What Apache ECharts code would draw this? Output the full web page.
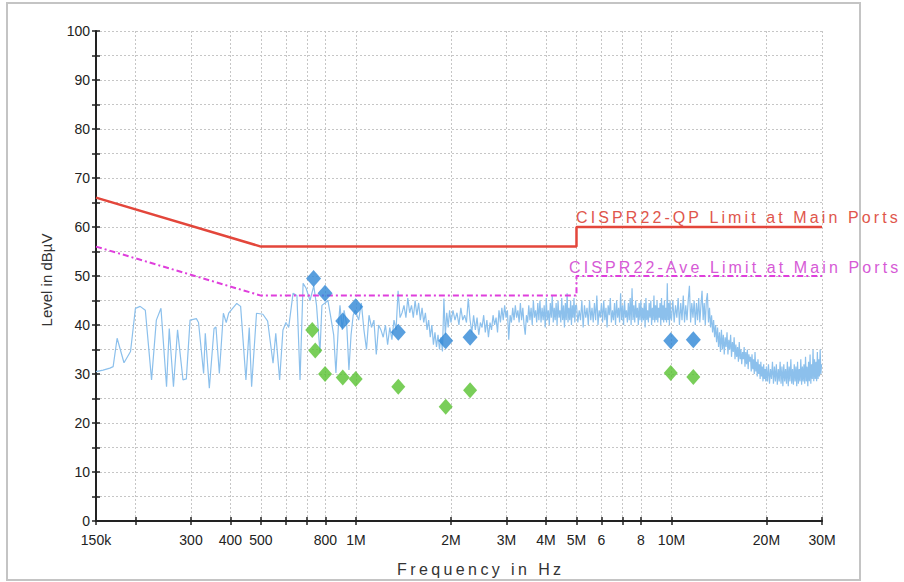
<!DOCTYPE html>
<html><head><meta charset="utf-8">
<script src="https://cdn.jsdelivr.net/npm/echarts@6/dist/echarts.min.js"></script>
<style>html,body{margin:0;padding:0;background:#fff}#c{width:904px;height:582px}</style>
</head><body><div id="c"></div>
<script>
// ---- axis ticks ----
const tickFreqsHz = [150e3,200e3,300e3,400e3,500e3,600e3,700e3,800e3,1e6,2e6,3e6,4e6,5e6,6e6,7e6,8e6,10e6,20e6,30e6];
const tickLabels  = ['150k','','300','400','500','','','800','1M','2M','3M','4M','5M','6','','8','10M','20M','30M'];

// ---- limit lines (MHz, dBµV) ----
const qpLimitFreqMHz  = [0.15, 0.5, 5, 5, 30];
const qpLimitLevel    = [66, 56, 56, 60, 60];
const aveLimitFreqMHz = [0.15, 0.5, 5, 5, 30];
const aveLimitLevel   = [56, 46, 46, 50, 50];

// ---- final measurement points ----
const qpFreqMHz  = [0.734, 0.798, 0.908, 0.998, 1.362, 1.925, 2.30, 9.95, 11.73];
const qpLevel    = [49.5, 46.5, 40.8, 43.7, 38.5, 36.8, 37.5, 36.8, 37.0];
const aveFreqMHz = [0.727, 0.743, 0.798, 0.908, 0.998, 1.362, 1.925, 2.30, 9.95, 11.73];
const aveLevel   = [39.0, 34.8, 30.0, 29.3, 29.0, 27.4, 23.3, 26.7, 30.2, 29.4];

// ---- pre-scan trace, 150 kHz – 1 MHz: [MHz, dBµV] ----
const traceLow = [[0.150,30.5],[0.158,30.8],[0.166,31.2],[0.170,31.5],[0.175,37.3],[0.184,32.3],[0.193,34.6],[0.200,43.4],[0.207,43.8],[0.215,43.0],[0.225,28.8],[0.233,41.0],[0.241,43.4],[0.251,27.4],[0.256,39.3],[0.264,27.4],[0.272,39.0],[0.283,28.8],[0.290,29.0],[0.298,41.0],[0.312,41.3],[0.317,40.5],[0.329,30.1],[0.333,38.3],[0.343,27.1],[0.355,39.3],[0.360,39.6],[0.369,30.1],[0.380,42.4],[0.388,40.5],[0.395,42.4],[0.419,44.4],[0.431,43.8],[0.448,28.8],[0.459,39.5],[0.467,27.4],[0.484,42.4],[0.507,42.2],[0.525,40.8],[0.546,32.2],[0.557,38.3],[0.573,28.8],[0.587,39.0],[0.600,40.5],[0.612,39.5],[0.632,46.5],[0.650,46.0],[0.665,28.8],[0.680,48.5],[0.695,47.5],[0.715,45.0],[0.735,48.0],[0.750,44.0],[0.769,34.3],[0.780,44.0],[0.798,44.5],[0.815,45.0],[0.830,42.0],[0.850,38.0],[0.864,30.2],[0.880,40.0],[0.890,44.0],[0.905,39.0],[0.917,43.0],[0.935,40.0],[0.950,30.8],[0.965,38.0],[0.980,42.0],[0.995,43.0]];

// ---- pre-scan trace, 1 – 30 MHz: receiver sweep bands (start, step in MHz) and levels read per step ----
const sweepStartMHz = [1, 2, 5, 10, 20];
const sweepStepMHz  = [0.02, 0.03, 0.05, 0.1, 0.15];
const sweep1to2 = [43,41,44.5,39,35,42,39.5,41,34,40,39,37.5,40,36,39.5,37,41,39,47,41.5, 42.5,44,41.5,45.5,42.5,44,41.5,45,42,44.5,41,43.5,40.5,42.5,39,41,37.5,40,36,38.5,35.5,38,35,37.5,34.6,45.4,38,42.5,39.5,43];
const sweep2to5 = [40.5,43,41,42.5,40,43.5,41,42,40.5,45.4, 41,38.5,42,39,41.5,38,40.5,39.5,42,38.5, 41,37.5,40.5,39,42,40,41.5,38.5,43,40.5, 43.5,41,44,41.5,43,37,42,40.5,43.5,41, 44,41.5,43,40.5,44.5,41,43.5,40,38,42, 40.5,44,41,43.5,40,45,41.5,43,40.5,44.5, 41,45,40.5,43.5,41,44,39.5,45.5,41,43, 40,44.5,41.5,46,40.5,43.5,41,44.5,40,45, 41.5,43,40.5,45.5,41,44,39.5,44.5,41,46.5, 40.5,43.5,41,45,40,44,41.5,45.5,40.5,44];
const sweep5to10 = [44,40.5,43,41,45,39.5,44,41.5,43.5,40, 45,41,43.5,40.5,44.5,41,46,40,43,41.5, 44.5,40.5,45,41,43.5,39.5,44,42,45.5,40.5, 43,41,44.5,40,45,41.5,43.5,40.5,46.5,41, 44,40,45,41.5,43,40.5,44.5,41,45.5,40, 47.5,41,44,40.5,45,41.5,43.5,40,44.5,41, 45,40.5,43.5,41,44.5,39.5,45.5,41,43,40.5, 44.5,41.5,45,40,43.5,41,46,40.5,44,41, 45,40.5,43.5,41.5,44.5,40,45.5,41,44,40.5, 45,41,43.5,40.5,48.5,41,44.5,40,45,41.5];
const sweep10to20 = [41,45,40.5,44,41.5,45.5,40,44.5,41,46, 40.5,44,41,45,48,40.5,44.5,41.5,45,40, 44.5,41,45.5,40.5,44,47,41,44.5,40,45, 46.5,40.5,43.5,39.5,42,38.5,41,37.5,40,36.5, 39.5,35.5,38.5,34.5,39,35,38,34,37.5,35.5, 38.5,34,37,35,38,33.5,36.5,34.5,37.5,33, 36,33.5,35.5,32.5,36.5,33,35,32,34.5,33, 35.5,31.5,34.5,32,35,31,34,32.5,33.5,30.5, 34,31,33,30,34.5,30.5,32.5,29.5,33,30, 32,29,32.5,29.5,31.5,28.5,32,29,31,28.5];
const sweep20to30 = [31.5,28.5,32,28,31,29,32.5,28,31.5,28.5, 32,27.8,31,28.5,32.5,28,31.5,27.5,32,28.5, 31,28,32.5,27.5,31.5,28.5,33,28,31,27.8, 32,28.5,31.5,27.5,32.5,28,31,28.5,33,27.8, 31.5,28.5,32,28,33.5,28.5,31.5,27.5,32.5,28.5, 34,28,32,29,35,28.5,33,29,32.5,28.5, 34.5,29,33,29.5,35,30,32];
const sweepLevels = [sweep1to2, sweep2to5, sweep5to10, sweep10to20, sweep20to30];

// ---- helpers ----
const lg = (mhz) => Math.log10(mhz * 1e6);
const pairs = (fs, vs) => fs.map((f, i) => [lg(f), vs[i]]);
const tracePoints = traceLow.map(([f, v]) => [lg(f), v]);
sweepLevels.forEach((levels, b) => levels.forEach((v, i) => tracePoints.push([lg(sweepStartMHz[b] + i * sweepStepMHz[b]), v])));
const tickVals  = tickFreqsHz.map(f => Math.log10(f));
const labelVals = tickVals.filter((v, i) => tickLabels[i] !== '');
const fmtX = (v) => { const i = tickVals.findIndex(t => Math.abs(t - v) < 1e-6); return i >= 0 ? tickLabels[i] : ''; };
const X_MIN = Math.log10(150e3), X_MAX = Math.log10(30e6);
const FONT = '"Liberation Sans", Arial, sans-serif';

const chart = echarts.init(document.getElementById('c'), null, {renderer: 'svg'});
chart.setOption({
  animation: false,
  backgroundColor: '#ffffff',
  grid: {left: 96, top: 31, width: 726, height: 490, containLabel: false},
  xAxis: [{
    type: 'value', min: X_MIN, max: X_MAX,
    axisLine: {show: true, onZero: false, lineStyle: {color: '#222', width: 2}},
    axisTick: {show: true, customValues: tickVals, length: 4, lineStyle: {color: '#222', width: 1.5}},
    axisLabel: {show: true, customValues: labelVals, formatter: fmtX, margin: 12, color: '#222', fontSize: 14, fontFamily: FONT, showMinLabel: true, showMaxLabel: true},
    splitLine: {show: true, lineStyle: {type: [2, 2], color: '#c6c6c6', width: 1}}
  }, {
    type: 'value', min: X_MIN, max: X_MAX, position: 'bottom',
    axisLine: {show: false},
    axisTick: {show: true, inside: true, customValues: tickVals, length: 4, lineStyle: {color: '#222', width: 1.5}},
    axisLabel: {show: false}, splitLine: {show: false}
  }],
  yAxis: [{
    type: 'value', min: 0, max: 100, interval: 5,
    axisLine: {show: true, onZero: false, lineStyle: {color: '#222', width: 2}},
    axisTick: {show: true, length: 4, lineStyle: {color: '#222', width: 1.5}},
    axisLabel: {formatter: v => (v % 10 === 0 ? String(v) : ''), margin: 6, color: '#222', fontSize: 14, fontFamily: FONT},
    splitLine: {show: true, lineStyle: {type: [2, 2], color: '#c6c6c6', width: 1}}
  }, {
    type: 'value', min: 0, max: 100, interval: 5, position: 'left',
    axisLine: {show: false},
    axisTick: {show: true, inside: true, length: 4, lineStyle: {color: '#222', width: 1.5}},
    axisLabel: {show: false}, splitLine: {show: false}
  }],
  graphic: [
    {type: 'rect', shape: {x: 7, y: 3, width: 853, height: 577}, style: {fill: 'none', stroke: '#c4c4c4', lineWidth: 2}, z: 0},
    {type: 'text', x: 576, y: 217.5, style: {text: 'CISPR22-QP Limit at Main Ports', fill: '#e0564c', font: '16px ' + FONT, textAlign: 'left', textVerticalAlign: 'middle'}, z: 50},
    {type: 'text', x: 569, y: 267, style: {text: 'CISPR22-Ave Limit at Main Ports', fill: '#d65ad6', font: '16px ' + FONT, textAlign: 'left', textVerticalAlign: 'middle'}, z: 50},
    {type: 'text', x: 397, y: 569, style: {text: 'Frequency in Hz', fill: '#333', font: '16px ' + FONT, textAlign: 'left', textVerticalAlign: 'middle'}, z: 50},
    {type: 'text', x: 46, y: 280, rotation: Math.PI / 2, style: {text: 'Level in dBµV', fill: '#333', font: '15px ' + FONT, textAlign: 'center', textVerticalAlign: 'middle'}, z: 50}
  ],
  series: [
    {name: 'Trace', type: 'line', symbol: 'none', z: 2,
     data: tracePoints, lineStyle: {color: '#8cc0ec', width: 1.2}},
    {name: 'QP Limit', type: 'line', symbol: 'none', z: 3,
     data: pairs(qpLimitFreqMHz, qpLimitLevel), lineStyle: {color: '#e3463b', width: 2.5}},
    {name: 'Ave Limit', type: 'line', symbol: 'none', z: 3,
     data: pairs(aveLimitFreqMHz, aveLimitLevel), lineStyle: {color: '#df3fdc', width: 2, type: [6, 3, 2, 3]}},
    {name: 'QP', type: 'scatter', symbol: 'diamond', symbolSize: [15, 17], z: 5,
     data: pairs(qpFreqMHz, qpLevel), itemStyle: {color: '#2f87d6'}},
    {name: 'AVE', type: 'scatter', symbol: 'diamond', symbolSize: [14, 16], z: 5,
     data: pairs(aveFreqMHz, aveLevel), itemStyle: {color: '#57c22f'}}
  ]
});

const spacing = {'CISPR22-QP Limit at Main Ports': '3.1', 'CISPR22-Ave Limit at Main Ports': '3.1', 'Frequency in Hz': '3.4'};
function applySpacing() {
  document.querySelectorAll('#c text').forEach(t => {
    const s = spacing[t.textContent.trim()];
    if (s) t.setAttribute('letter-spacing', s + 'px');
  });
}
chart.on('finished', applySpacing);
applySpacing();
setTimeout(applySpacing, 30);
</script></body></html>
